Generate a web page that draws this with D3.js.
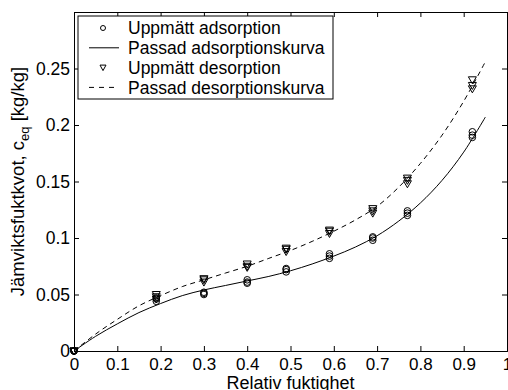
<!DOCTYPE html>
<html>
<head>
<meta charset="utf-8">
<script src="https://cdn.jsdelivr.net/npm/d3@7"></script>
<style>
  body { margin: 0; background: #fff; }
  svg { display: block; font-family: "Liberation Sans", Arial, sans-serif; }
</style>
</head>
<body>
<svg id="chart"></svg>
<script>
// measured relative humidity levels
const rhLevels = [0, 0.19, 0.30, 0.40, 0.49, 0.59, 0.69, 0.77, 0.92];

// three replicate measurements per level
const adsRep1 = [0, 0.044, 0.050, 0.060, 0.070, 0.082, 0.098, 0.120, 0.189];
const adsRep2 = [0, 0.046, 0.051, 0.061, 0.072, 0.084, 0.100, 0.122, 0.191];
const adsRep3 = [0, 0.047, 0.052, 0.063, 0.073, 0.086, 0.101, 0.124, 0.194];
const desRep1 = [0, 0.046, 0.061, 0.074, 0.088, 0.104, 0.122, 0.148, 0.232];
const desRep2 = [0, 0.048, 0.063, 0.075, 0.090, 0.106, 0.124, 0.151, 0.235];
const desRep3 = [0, 0.050, 0.064, 0.077, 0.091, 0.107, 0.126, 0.153, 0.240];

// fitted curves
const curveRh  = [0, 0.05, 0.1, 0.15, 0.2, 0.25, 0.3, 0.35, 0.4, 0.45, 0.5, 0.55, 0.6, 0.65, 0.7, 0.75, 0.8, 0.85, 0.9, 0.95];
const adsCurve = [0, 0.013, 0.024, 0.034, 0.042, 0.049, 0.054, 0.058, 0.062, 0.066, 0.071, 0.077, 0.084, 0.092, 0.102, 0.115, 0.131, 0.151, 0.176, 0.207];
const desCurve = [0, 0.015, 0.028, 0.040, 0.049, 0.057, 0.063, 0.069, 0.075, 0.082, 0.089, 0.097, 0.106, 0.116, 0.128, 0.145, 0.166, 0.191, 0.221, 0.256];

const xTicks = [0, 0.1, 0.2, 0.3, 0.4, 0.5, 0.6, 0.7, 0.8, 0.9, 1];
const yTicks = [0, 0.05, 0.1, 0.15, 0.2, 0.25];

const legendLabels = ["Uppmätt adsorption", "Passad adsorptionskurva", "Uppmätt desorption", "Passad desorptionskurva"];

const width = 508, height = 390;
const margin = { left: 74, right: 1, top: 12, bottom: 39 };

const svg = d3.select("#chart").attr("width", width).attr("height", height);

const x = d3.scaleLinear().domain([0, 1]).range([margin.left, width - margin.right]);
const y = d3.scaleLinear().domain([0, 0.3]).range([height - margin.bottom, margin.top]);

const fontSize = 17.5;

// axes with inward ticks on all four sides
svg.append("g")
    .attr("transform", `translate(0,${y(0)})`)
    .call(d3.axisBottom(x).tickValues(xTicks).tickSize(-5).tickPadding(7).tickFormat(d3.format("~g")))
    .call(g => g.selectAll("text").attr("font-size", 17).attr("fill", "#000"));
svg.append("g")
    .attr("transform", `translate(0,${y(0.3)})`)
    .call(d3.axisTop(x).tickValues(xTicks).tickSize(-5).tickFormat(""));
svg.append("g")
    .attr("transform", `translate(${x(0)},0)`)
    .call(d3.axisLeft(y).tickValues(yTicks).tickSize(-5).tickPadding(4).tickFormat(d3.format("~g")))
    .call(g => g.selectAll("text").attr("font-size", fontSize).attr("fill", "#000"));
svg.append("g")
    .attr("transform", `translate(${x(1)},0)`)
    .call(d3.axisRight(y).tickValues(yTicks).tickSize(-5).tickFormat(""));

svg.selectAll(".domain").attr("stroke", "#000");
svg.selectAll(".tick line").attr("stroke", "#000");

// fitted curves
const line = d3.line()
    .x((d, i) => x(curveRh[i]))
    .y(d => y(d))
    .curve(d3.curveCatmullRom);

svg.append("path").datum(adsCurve)
    .attr("d", line).attr("fill", "none").attr("stroke", "#000").attr("stroke-width", 1);
svg.append("path").datum(desCurve)
    .attr("d", line).attr("fill", "none").attr("stroke", "#000").attr("stroke-width", 1)
    .attr("stroke-dasharray", "5,4");

// measured points
const adsPoints = [];
const desPoints = [];
[adsRep1, adsRep2, adsRep3].forEach(rep => rep.forEach((v, i) => adsPoints.push([rhLevels[i], v])));
[desRep1, desRep2, desRep3].forEach(rep => rep.forEach((v, i) => desPoints.push([rhLevels[i], v])));

const tri = "M-4,-3L4,-3L0,4Z";

svg.append("g").selectAll("circle")
    .data(adsPoints)
    .enter().append("circle")
    .attr("cx", d => x(d[0]))
    .attr("cy", d => y(d[1]))
    .attr("r", 3.3)
    .attr("fill", "none")
    .attr("stroke", "#000");

svg.append("g").selectAll("path")
    .data(desPoints)
    .enter().append("path")
    .attr("transform", d => `translate(${x(d[0])},${y(d[1])})`)
    .attr("d", tri)
    .attr("fill", "none")
    .attr("stroke", "#000");

// legend
const lg = svg.append("g");
lg.append("rect")
    .attr("x", 78).attr("y", 16).attr("width", 255).attr("height", 83)
    .attr("fill", "#fff").attr("stroke", "#000");

legendLabels.forEach((label, i) => {
    const cy = 28 + i * 19.8;
    if (i === 0) {
        lg.append("circle").attr("cx", 103).attr("cy", cy).attr("r", 2.5)
            .attr("fill", "none").attr("stroke", "#000");
    } else if (i === 2) {
        lg.append("path").attr("transform", `translate(103,${cy})`)
            .attr("d", "M-3,-2.5L3,-2.5L0,3Z").attr("fill", "none").attr("stroke", "#000");
    } else {
        lg.append("line").attr("x1", 89).attr("x2", 119).attr("y1", cy).attr("y2", cy)
            .attr("stroke", "#000")
            .attr("stroke-dasharray", i === 3 ? "5,5" : null);
    }
    lg.append("text").attr("x", 128).attr("y", cy).attr("dy", "0.35em")
        .attr("font-size", fontSize).text(label);
});

// axis labels
svg.append("text")
    .attr("x", (x(0) + x(1)) / 2).attr("y", 389)
    .attr("text-anchor", "middle").attr("font-size", 18)
    .text("Relativ fuktighet");

const yl = svg.append("text")
    .attr("transform", `translate(24,${(y(0) + y(0.3)) / 2}) rotate(-90)`)
    .attr("text-anchor", "middle").attr("font-size", 18.5);
yl.append("tspan").text("Jämviktsfuktkvot, c");
yl.append("tspan").attr("font-size", 13).attr("dy", 5).text("eq");
yl.append("tspan").attr("dy", -5).text(" [kg/kg]");
</script>
</body>
</html>
